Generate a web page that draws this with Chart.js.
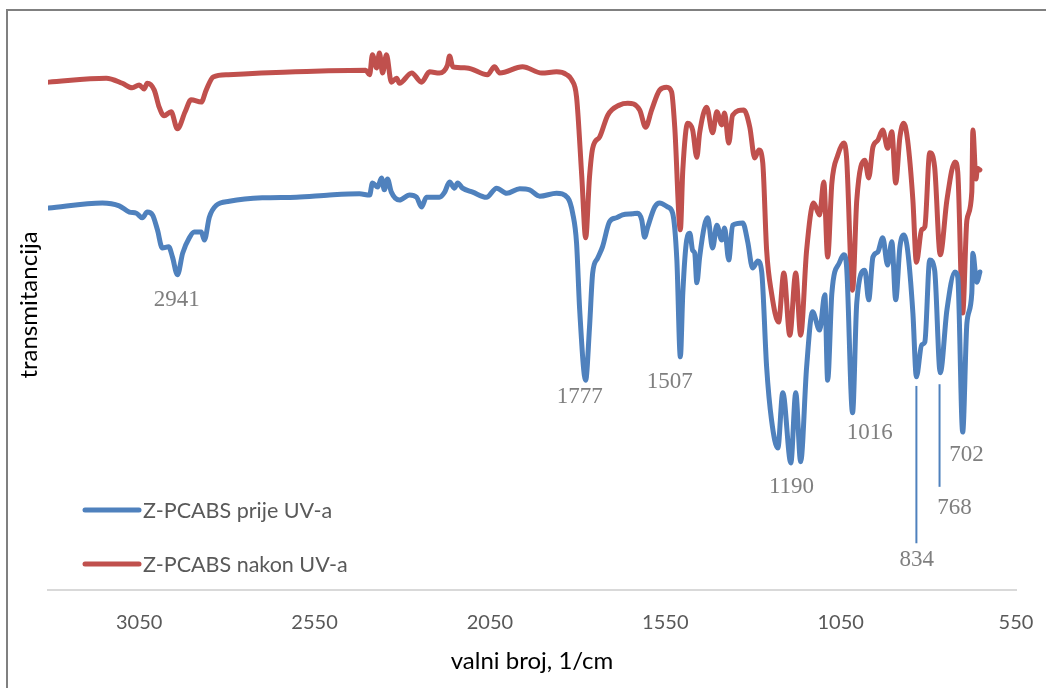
<!DOCTYPE html>
<html>
<head>
<meta charset="utf-8">
<script src="https://cdn.jsdelivr.net/npm/chart.js@4.4.1/dist/chart.umd.min.js"></script>
<style>
  html, body { margin: 0; padding: 0; background: #ffffff; }
  #wrap { position: relative; width: 1046px; height: 688px; }
</style>
</head>
<body>
<div id="wrap"><canvas id="ftirChart" width="1046" height="688"></canvas></div>
<script>
// IR spektar, valni broj (1/cm) i transmitancija (rel. jedinice)
const seriesNames = ['Z-PCABS prije UV-a', 'Z-PCABS nakon UV-a'];
const xTicks = [550, 1050, 1550, 2050, 2550, 3050];

const wnPrije = [3308, 3155, 3107, 3078, 3058, 3041, 3027, 3012, 2998, 2984, 2966, 2955, 2941, 2926, 2907, 2893, 2873, 2864, 2850, 2830,
  2793, 2699, 2602, 2507, 2422, 2393, 2385, 2370, 2359, 2351, 2342, 2331, 2308, 2279, 2259, 2245, 2231, 2194, 2179, 2165,
  2151, 2142, 2128, 2099, 2060, 2031, 2002, 1965, 1937, 1908, 1860, 1828, 1814, 1803, 1794, 1777, 1766, 1757, 1743, 1729,
  1709, 1689, 1672, 1643, 1629, 1617, 1609, 1600, 1580, 1566, 1543, 1529, 1517, 1507, 1500, 1489, 1480, 1472, 1466, 1460,
  1452, 1438, 1429, 1415, 1403, 1389, 1381, 1369, 1358, 1329, 1315, 1301, 1286, 1275, 1261, 1247, 1229, 1215, 1192, 1178,
  1164, 1147, 1130, 1110, 1095, 1087, 1075, 1053, 1041, 1033, 1016, 1004, 981, 970, 958, 944, 930, 916, 904, 893,
  881, 870, 859, 844, 834, 819, 810, 796, 782, 766, 747, 724, 716, 702, 690, 676, 673, 662, 653];
const tPrije = [67.0, 67.9, 67.4, 66.3, 66.1, 65.3, 66.3, 65.8, 63.2, 60.0, 60.2, 58.4, 55.3, 59.1, 61.8, 62.8, 62.8, 61.4, 65.4, 67.5,
  68.2, 68.8, 68.9, 69.3, 69.5, 69.3, 71.4, 70.7, 72.3, 70.2, 72.1, 69.8, 68.4, 69.3, 68.9, 67.2, 68.9, 68.9, 69.8, 71.6,
  70.5, 71.4, 70.5, 69.8, 68.9, 70.5, 69.6, 70.4, 70.2, 69.1, 69.6, 68.8, 66.1, 60.9, 49.1, 36.8, 46.1, 55.6, 58.2, 60.2,
  64.6, 65.3, 65.8, 66.0, 66.1, 64.9, 61.9, 63.7, 67.2, 67.9, 67.2, 66.1, 57.9, 40.9, 52.1, 61.4, 62.6, 59.6, 59.1, 53.9,
  58.4, 64.0, 65.3, 60.0, 64.0, 61.4, 63.5, 57.9, 64.0, 64.4, 61.1, 56.5, 57.7, 55.8, 39.1, 29.8, 24.9, 34.6, 22.3, 34.6,
  22.5, 39.1, 48.8, 45.6, 51.8, 36.8, 52.1, 57.5, 58.8, 56.7, 31.1, 50.4, 56.1, 50.9, 58.4, 59.3, 61.8, 57.0, 61.1, 50.9,
  60.2, 62.3, 59.6, 48.6, 37.4, 43.0, 43.5, 57.9, 56.1, 38.1, 49.1, 55.8, 54.9, 27.7, 46.8, 52.1, 59.1, 54.0, 55.8];

const wnNakon = [3308, 3144, 3098, 3070, 3050, 3036, 3027, 3007, 2993, 2979, 2959, 2941, 2919, 2902, 2873, 2859, 2839, 2796, 2702, 2605,
  2510, 2404, 2393, 2385, 2373, 2365, 2356, 2345, 2331, 2316, 2308, 2273, 2245, 2222, 2194, 2171, 2165, 2156, 2116, 2057,
  2037, 2022, 1957, 1902, 1860, 1831, 1817, 1803, 1788, 1777, 1766, 1757, 1737, 1714, 1680, 1657, 1623, 1606, 1589, 1566,
  1546, 1532, 1523, 1507, 1500, 1486, 1472, 1460, 1452, 1432, 1415, 1403, 1389, 1381, 1369, 1358, 1326, 1309, 1295, 1283,
  1272, 1261, 1247, 1227, 1212, 1195, 1178, 1164, 1147, 1127, 1110, 1098, 1087, 1075, 1058, 1041, 1033, 1016, 1004, 981,
  970, 958, 944, 930, 916, 904, 893, 881, 870, 859, 844, 834, 819, 810, 796, 782, 766, 747, 724, 716,
  702, 690, 676, 673, 664, 660, 653];
const tNakon = [89.1, 89.8, 88.9, 88.1, 88.6, 87.9, 88.9, 87.7, 84.7, 83.2, 83.9, 80.9, 83.9, 86.0, 85.6, 87.7, 90.0, 90.4, 90.7, 90.9,
  91.1, 91.2, 90.4, 93.9, 91.6, 94.2, 90.7, 93.9, 89.1, 89.8, 88.9, 90.7, 89.1, 90.9, 90.7, 92.1, 93.7, 91.8, 91.6, 90.4,
  91.8, 90.7, 91.8, 90.7, 90.9, 90.4, 89.5, 86.5, 72.5, 61.8, 72.5, 77.5, 79.5, 83.3, 85.1, 85.4, 84.2, 81.2, 84.2, 87.7,
  88.2, 87.4, 81.2, 63.2, 73.7, 81.9, 80.7, 75.9, 80.2, 84.7, 80.2, 83.9, 81.6, 83.7, 78.4, 83.3, 84.2, 81.2, 75.8, 77.2,
  74.9, 59.6, 52.1, 47.0, 55.6, 44.7, 55.6, 44.7, 59.6, 67.9, 65.8, 71.6, 58.4, 71.4, 76.3, 78.4, 75.8, 52.6, 68.4, 75.4,
  72.3, 77.7, 78.9, 80.7, 77.5, 80.4, 71.4, 79.5, 81.9, 78.9, 68.4, 57.5, 63.2, 63.7, 76.7, 74.2, 58.8, 68.4, 75.1, 73.3,
  48.6, 64.9, 69.8, 80.7, 72.1, 74.0, 73.7];

// oznake pikova: tekst, polozaj (valni broj, transmitancija)
const peakText = ['2941', '1777', '1507', '1190', '1016', '702', '768', '834'];
const peakX = [2943, 1794, 1537, 1190, 967, 691, 725, 833];
const peakY = [50.9, 33.9, 36.5, 18.1, 27.5, 23.7, 14.4, 5.3];
// vertikalne linije do oznaka 834 i 768
const leaderX = [834, 768];
const leaderTop = [35.8, 36.1];
const leaderBottom = [8.2, 18.1];

const blue = '#4f81bd';
const red = '#c0504d';
const sansFont = 'Lato, "Open Sans", sans-serif';

function toPoints(xs, ys) {
    return xs.map((x, i) => ({ x: x, y: ys[i] }));
}

const frameAndLabels = {
    id: 'frameAndLabels',
    beforeDraw(chart) {
        const c = chart.ctx;
        c.save();
        c.strokeStyle = '#808080';
        c.lineWidth = 2;
        c.strokeRect(7, 10, 1100, 760);
        c.restore();
    },
    afterDatasetsDraw(chart) {
        const c = chart.ctx;
        const xs = chart.scales.x, ys = chart.scales.y;
        c.save();
        // leader lines
        c.strokeStyle = blue;
        c.lineWidth = 2;
        leaderX.forEach((wn, i) => {
            const px = xs.getPixelForValue(wn);
            c.beginPath();
            c.moveTo(px, ys.getPixelForValue(leaderTop[i]));
            c.lineTo(px, ys.getPixelForValue(leaderBottom[i]));
            c.stroke();
        });
        // peak labels
        c.font = '23px "Liberation Serif", "Times New Roman", serif';
        c.fillStyle = '#7f7f7f';
        c.textAlign = 'center';
        c.textBaseline = 'middle';
        peakText.forEach((t, i) => {
            c.fillText(t, xs.getPixelForValue(peakX[i]), ys.getPixelForValue(peakY[i]));
        });
        // legend inside plot area
        const rows = [510, 564];
        chart.data.datasets.forEach((ds, i) => {
            c.strokeStyle = ds.borderColor;
            c.lineWidth = 5;
            c.lineCap = 'round';
            c.beginPath();
            c.moveTo(85, rows[i]);
            c.lineTo(139, rows[i]);
            c.stroke();
            c.font = '21.5px ' + sansFont;
            c.fillStyle = '#595959';
            c.textAlign = 'left';
            c.fillText(ds.label, 143, rows[i] + 1);
        });
        c.restore();
    }
};

const ctx = document.getElementById('ftirChart').getContext('2d');
new Chart(ctx, {
    type: 'line',
    data: {
        datasets: [
            {
                label: seriesNames[0],
                data: toPoints(wnPrije, tPrije),
                borderColor: blue,
                borderWidth: 5,
                pointRadius: 0,
                fill: false,
                cubicInterpolationMode: 'monotone',
                borderCapStyle: 'round',
                borderJoinStyle: 'round'
            },
            {
                label: seriesNames[1],
                data: toPoints(wnNakon, tNakon),
                borderColor: red,
                borderWidth: 5,
                pointRadius: 0,
                fill: false,
                cubicInterpolationMode: 'monotone',
                borderCapStyle: 'round',
                borderJoinStyle: 'round'
            }
        ]
    },
    options: {
        responsive: false,
        animation: false,
        devicePixelRatio: 1,
        layout: { padding: { left: 0, top: 20, right: 30, bottom: 10 } },
        plugins: {
            legend: { display: false },
            tooltip: { enabled: false }
        },
        scales: {
            x: {
                type: 'linear',
                reverse: true,
                min: 550,
                max: 3310,
                grid: { display: false },
                border: { display: true, color: '#d9d9d9', width: 2 },
                afterBuildTicks: (scale) => { scale.ticks = xTicks.map(v => ({ value: v })); },
                afterFit: (scale) => { scale.height = 88; },
                ticks: {
                    color: '#595959',
                    font: { family: sansFont, size: 20 },
                    padding: 13,
                    maxRotation: 0,
                    callback: (v) => String(v)
                },
                title: {
                    display: true,
                    text: 'valni broj, 1/cm',
                    color: '#000000',
                    font: { family: sansFont, size: 24 },
                    padding: { top: 4, bottom: 2 }
                }
            },
            y: {
                min: 0,
                max: 100,
                grid: { display: false },
                border: { display: false },
                ticks: { display: false },
                afterFit: (scale) => { scale.width = 48; },
                title: {
                    display: true,
                    text: 'transmitancija',
                    color: '#000000',
                    font: { family: sansFont, size: 24 },
                    padding: { top: 15, bottom: 4 }
                }
            }
        }
    },
    plugins: [frameAndLabels]
});
</script>
</body>
</html>
